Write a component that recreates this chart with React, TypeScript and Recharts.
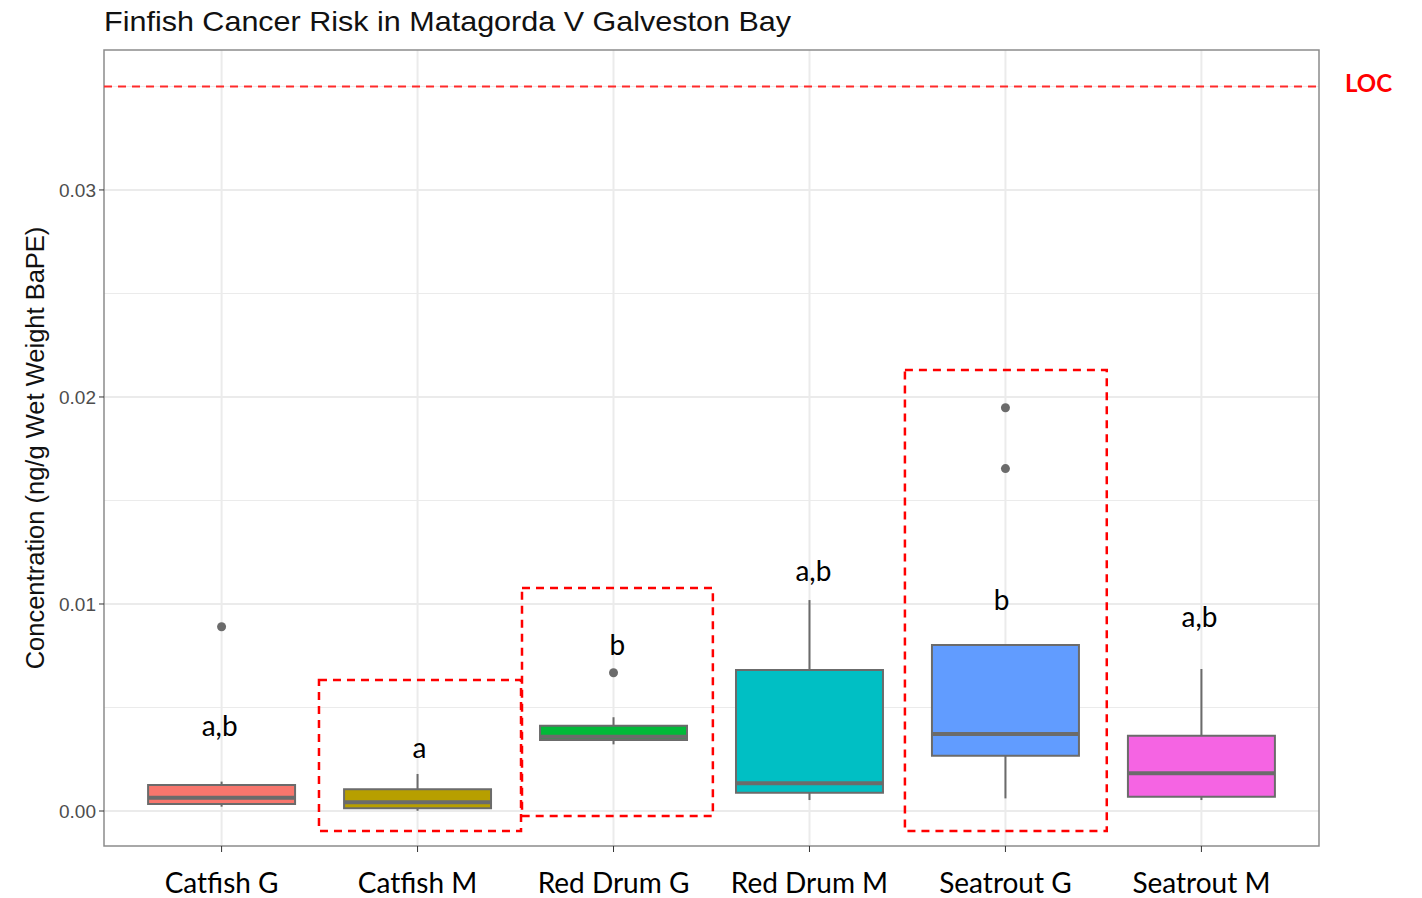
import { ComposedChart, CartesianGrid, XAxis, YAxis, Scatter, ReferenceLine, ReferenceArea, ReferenceDot } from "recharts"

const categories = ["Catfish G", "Catfish M", "Red Drum G", "Red Drum M", "Seatrout G", "Seatrout M"]
const fills = ["#F8766D", "#B79F00", "#00BA38", "#00BFC4", "#619CFF", "#F564E3"]
const lowerWhisker = [0.00021, 0.00001, 0.00322, 0.00053, 0.00061, 0.00053]
const q1 = [0.00034, 0.00013, 0.00343, 0.00088, 0.00267, 0.00069]
const median = [0.00064, 0.00042, 0.00359, 0.00134, 0.00372, 0.00182]
const q3 = [0.00126, 0.00105, 0.00412, 0.00681, 0.00802, 0.00364]
const upperWhisker = [0.00142, 0.00179, 0.00453, 0.01019, 0.00802, 0.00686]

const outliers = [
  { x: 1, y: 0.0089 },
  { x: 3, y: 0.00668 },
  { x: 5, y: 0.01948 },
  { x: 5, y: 0.01654 },
]

// significance letters above each box
const letters = ["a,b", "a", "b", "a,b", "b", "a,b"]
const letterX = [0.99, 2.01, 3.02, 4.02, 4.98, 5.99]
const letterY = [0.0041, 0.00304, 0.00802, 0.0116, 0.0102, 0.00939]

// highlighted groups (dashed red boxes)
const highlights = [
  { x1: 1.497, x2: 2.528, y1: -0.00096, y2: 0.00633 },
  { x1: 2.533, x2: 3.507, y1: -0.00024, y2: 0.01077 },
  { x1: 4.487, x2: 5.517, y1: -0.00096, y2: 0.0213 },
]

const LOC = 0.035
const yMin = -0.00169
const yMax = 0.03676
const yTicks = [0, 0.01, 0.02, 0.03]
const minorY = [0.005, 0.015, 0.025, 0.035]
const xTicks = [1, 2, 3, 4, 5, 6]
const boxHalf = 0.375

const boxStroke = "#6b6b6b"
const gridColor = "#ebebeb"
const sans = "'Liberation Sans', Arial, sans-serif"
const calibriLike = "Lato, 'Open Sans', sans-serif"

export default function App() {
  return (
    <div style={{ position: "relative", width: 1422, height: 898, background: "#fff" }}>
      <style>{"body{margin:0}"}</style>
      <div
        style={{
          position: "absolute",
          left: 104,
          top: 6,
          fontFamily: sans,
          fontSize: 28,
          lineHeight: "32px",
          color: "#111",
          whiteSpace: "nowrap",
          transform: "scaleX(1.09)",
          transformOrigin: "left center",
        }}
      >
        Finfish Cancer Risk in Matagorda V Galveston Bay
      </div>
      <ComposedChart width={1422} height={898} margin={{ top: 50, right: 103, bottom: 0, left: 0 }}>
        <CartesianGrid stroke={gridColor} strokeWidth={1} horizontalValues={minorY} vertical={false} />
        <CartesianGrid stroke={gridColor} strokeWidth={2} horizontalValues={yTicks} verticalValues={xTicks} />
        <XAxis
          type="number"
          dataKey="x"
          domain={[0.4, 6.6]}
          ticks={xTicks}
          interval={0}
          allowDataOverflow
          tickFormatter={(v: number) => categories[v - 1] ?? ""}
          axisLine={false}
          tickLine={{ stroke: "#333" }}
          tickSize={6}
          tickMargin={21}
          height={52}
          tick={{ fontSize: 28, fill: "#000", fontFamily: calibriLike }}
        />
        <YAxis
          type="number"
          dataKey="y"
          domain={[yMin, yMax]}
          ticks={yTicks}
          allowDataOverflow
          tickFormatter={(v: number) => v.toFixed(2)}
          axisLine={false}
          tickLine={{ stroke: "#333" }}
          tickSize={5}
          tickMargin={3}
          width={104}
          tick={{ fontSize: 19, fill: "#4d4d4d", fontFamily: sans }}
          label={{
            value: "Concentration (ng/g Wet Weight BaPE)",
            angle: -90,
            position: "insideLeft",
            offset: 35,
            style: { textAnchor: "middle", fontSize: 25.5, fill: "#111", fontFamily: sans },
          }}
        />

        {categories.map((c, i) => (
          <ReferenceLine
            key={"wl" + c}
            segment={[{ x: i + 1, y: lowerWhisker[i] }, { x: i + 1, y: q1[i] }]}
            stroke={boxStroke}
            strokeWidth={2}
          />
        ))}
        {categories.map((c, i) => (
          <ReferenceLine
            key={"wu" + c}
            segment={[{ x: i + 1, y: q3[i] }, { x: i + 1, y: upperWhisker[i] }]}
            stroke={boxStroke}
            strokeWidth={2}
          />
        ))}
        {categories.map((c, i) => (
          <ReferenceArea
            key={"box" + c}
            x1={i + 1 - boxHalf}
            x2={i + 1 + boxHalf}
            y1={q1[i]}
            y2={q3[i]}
            fill={fills[i]}
            fillOpacity={1}
            stroke={boxStroke}
            strokeWidth={2}
          />
        ))}
        {categories.map((c, i) => (
          <ReferenceLine
            key={"med" + c}
            segment={[{ x: i + 1 - boxHalf, y: median[i] }, { x: i + 1 + boxHalf, y: median[i] }]}
            stroke={boxStroke}
            strokeWidth={4}
          />
        ))}

        <Scatter
          data={outliers}
          isAnimationActive={false}
          shape={(p: any) => <circle cx={p.cx} cy={p.cy} r={4.5} fill="#6b6b6b" />}
        />

        {letters.map((t, i) => (
          <ReferenceDot
            key={"lt" + i}
            x={letterX[i]}
            y={letterY[i]}
            r={0}
            stroke="none"
            fill="none"
            label={{ value: t, position: "center", fontSize: 28, fill: "#000", fontFamily: calibriLike }}
          />
        ))}

        {highlights.map((h, i) => (
          <ReferenceArea
            key={"hl" + i}
            x1={h.x1}
            x2={h.x2}
            y1={h.y1}
            y2={h.y2}
            fill="none"
            stroke="#ff0000"
            strokeWidth={2.5}
            strokeDasharray="8 6"
          />
        ))}

        <ReferenceLine
          y={LOC}
          stroke="#ff2a2a"
          strokeWidth={2}
          strokeDasharray="8 6"
          label={{ value: "LOC", position: "right", offset: 26, dy: -3, fill: "#ff0000", fontSize: 24, fontWeight: "bold", fontFamily: calibriLike }}
        />

        <ReferenceArea x1={0.4} x2={6.6} y1={yMin} y2={yMax} fill="none" stroke="#8c8c8c" strokeWidth={1.5} />
      </ComposedChart>
    </div>
  )
}
